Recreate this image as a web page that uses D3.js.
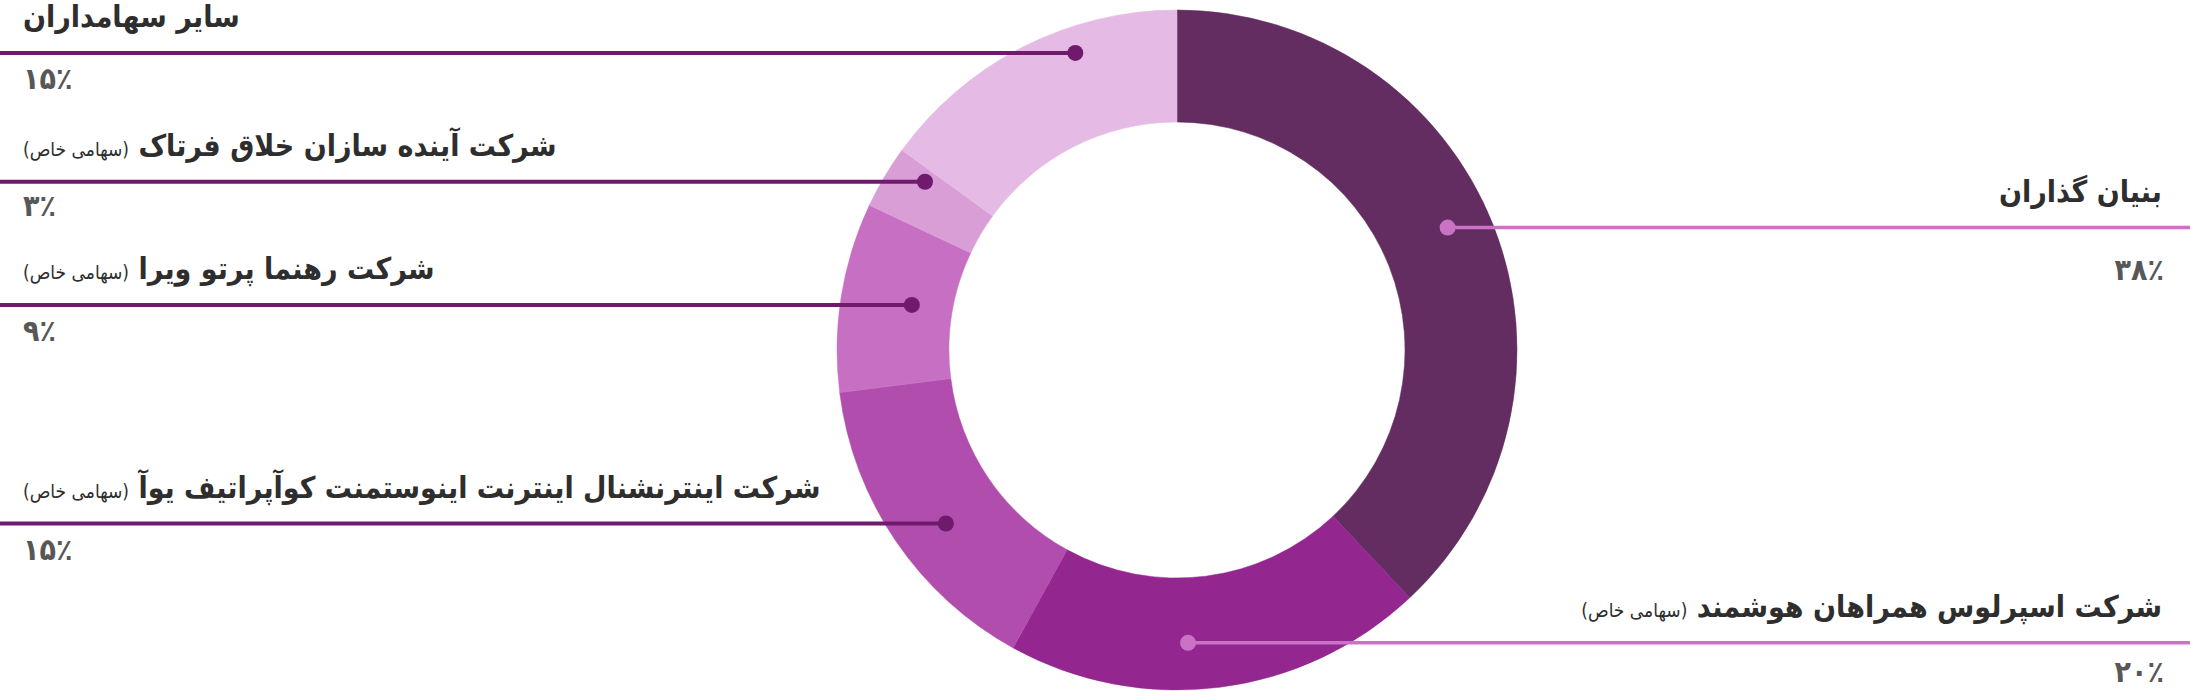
<!DOCTYPE html>
<html>
<head>
<meta charset="utf-8">
<script src="https://cdn.jsdelivr.net/npm/d3@7"></script>
<style>
  html, body { margin: 0; padding: 0; background: #ffffff; }
  svg { display: block; }
  .title { font-family: 'DejaVu Sans Condensed', 'DejaVu Sans', sans-serif; font-weight: bold; fill: #2e2e2e; }
  .pct { font-family: 'DejaVu Sans Condensed', 'DejaVu Sans', sans-serif; font-weight: bold; fill: #575757; }
</style>
</head>
<body>
<script>
// ---- data ----
const categories = [
  "بنیان گذاران",
  "شرکت اسپرلوس همراهان هوشمند",
  "شرکت اینترنشنال اینترنت اینوستمنت کوآپراتیف یوآ",
  "شرکت رهنما پرتو ویرا",
  "شرکت آینده سازان خلاق فرتاک",
  "سایر سهامداران"
];
const suffixes = ["", "(سهامی خاص)", "(سهامی خاص)", "(سهامی خاص)", "(سهامی خاص)", ""];
const values = [38, 20, 15, 9, 3, 15];
const percentLabels = ["۳۸٪", "۲۰٪", "۱۵٪", "۹٪", "۳٪", "۱۵٪"];
const sliceColors = ["#632d61", "#93268f", "#b14dad", "#c76fc2", "#d99ed6", "#e5bae4"];

// ---- layout ----
const W = 2190, H = 691;
const cx = 1177, cy = 350, rOuter = 340, rInner = 228;
const dotAngleFrac = [0.48, 0.57, 0.45, 0.52, 0.79, 0.65];
const dotRadius = [297, 293, 289, 269, 303, 314];
const side = ["right", "right", "left", "left", "left", "left"];
const pctOffset = [52, 39, 36, 36, 34, 36];

const svg = d3.select("body").append("svg").attr("width", W).attr("height", H);

const pie = d3.pie().value(d => d).sort(null);
const arcs = pie(values);
const arc = d3.arc().innerRadius(rInner).outerRadius(rOuter);

const g = svg.append("g").attr("transform", `translate(${cx},${cy})`);
g.selectAll("path.slice").data(arcs).enter().append("path")
  .attr("class", "slice")
  .attr("d", arc)
  .attr("fill", (d, i) => sliceColors[i])
  .attr("stroke", (d, i) => sliceColors[i])
  .attr("stroke-width", 0.5);

const lineLeft = "#6f1a6d", lineRight = "#c972c6";

const labels = arcs.map((a, i) => {
  const ang = a.startAngle + (a.endAngle - a.startAngle) * dotAngleFrac[i];
  const x = cx + dotRadius[i] * Math.sin(ang);
  const y = cy - dotRadius[i] * Math.cos(ang);
  return { i, x, y, side: side[i] };
});

const lg = svg.append("g");
labels.forEach(l => {
  const col = l.side === "left" ? lineLeft : lineRight;
  lg.append("line")
    .attr("x1", l.side === "left" ? 0 : l.x)
    .attr("x2", l.side === "left" ? l.x : W)
    .attr("y1", l.y).attr("y2", l.y)
    .attr("stroke", col).attr("stroke-width", l.side === "left" ? 4 : 3.5);
  lg.append("circle").attr("cx", l.x).attr("cy", l.y).attr("r", 8).attr("fill", col);

  const tx = l.side === "left" ? 23 : 2162;
  const t = lg.append("text")
    .attr("class", "title")
    .attr("x", tx).attr("y", l.y - 26)
    .attr("direction", "rtl")
    .style("direction", "rtl")
    .style("unicode-bidi", "embed")
    .attr("text-anchor", l.side === "left" ? "end" : "start")
    .attr("font-size", 30);
  t.append("tspan").text(categories[l.i] + (suffixes[l.i] ? " " : ""));
  if (suffixes[l.i]) t.append("tspan").attr("font-size", 19).attr("font-weight", "normal").text(suffixes[l.i]);

  lg.append("text")
    .attr("class", "pct")
    .attr("x", l.side === "left" ? 23 : 2164)
    .attr("y", l.y + pctOffset[l.i])
    .attr("text-anchor", l.side === "left" ? "start" : "end")
    .attr("font-size", 30)
    .text(percentLabels[l.i]);
});
</script>
</body>
</html>
